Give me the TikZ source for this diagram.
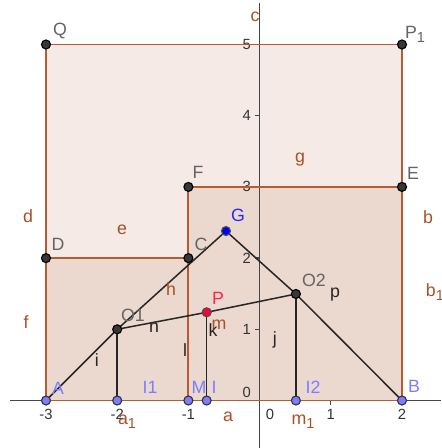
\documentclass[tikz,border=0pt]{standalone}
\usepackage{fontspec}
\setmainfont{Liberation Sans}
\usepackage{tikz}
\usetikzlibrary{positioning,calc}
\definecolor{ggbBrown}{RGB}{153,51,0}
\definecolor{ggbEdge}{RGB}{182,92,50}
\definecolor{ggbText}{RGB}{170,80,40}
\definecolor{ggbPoint}{RGB}{55,55,55}
\definecolor{ggbGrey}{RGB}{100,100,100}
\definecolor{ggbLilac}{RGB}{125,125,255}
\definecolor{ggbBlue}{RGB}{0,0,255}
\definecolor{ggbRed}{RGB}{255,0,51}
\definecolor{ggbAxis}{RGB}{70,70,70}
\newcommand{\ggbSub}[1]{\raisebox{-0.45ex}{\fontsize{5.8}{6}\selectfont #1}}
\tikzset{
  every node/.style={font=\fontsize{7.1}{8}\selectfont},
  polyFill/.style={fill=ggbBrown,fill opacity=0.1},
  polyEdge/.style={draw=ggbEdge,line width=0.75pt},
  segLine/.style={draw=black!85,line width=0.6pt},
  dotDark/.style={circle,draw=black,fill=ggbPoint,line width=0.45pt,inner sep=0pt,minimum size=3.6pt},
  dotFree/.style={dotDark,fill=ggbLilac,draw=black!80},
  ptName/.style={text=ggbGrey,inner sep=0pt},
  polyName/.style={text=ggbText,inner sep=0pt},
  segName/.style={text=black!85,inner sep=0pt},
  tickName/.style={text=black!80,inner sep=0pt,font=\fontsize{5.9}{7}\selectfont}
}
\begin{document}
\begin{tikzpicture}
  \useasboundingbox (-3.646,-0.667) rectangle (2.548,5.625);
  % points
  \coordinate (A) at (-3,0);   \coordinate (B) at (2,0);
  \coordinate (P1) at (2,5);   \coordinate (Q) at (-3,5);
  \coordinate (E) at (2,3);    \coordinate (F) at (-1,3);
  \coordinate (D) at (-3,2);   \coordinate (C) at (-1,2);
  \coordinate (M) at (-1,0);   \coordinate (I1) at (-2,0);
  \coordinate (O1) at (-2,1);  \coordinate (G) at (-0.472,2.38);
  \coordinate (P) at (-0.743,1.239); \coordinate (I) at (-0.743,0);
  \coordinate (O2) at (0.51,1.496);  \coordinate (I2) at (0.51,0);
  \coordinate (xLeft) at (-3.506,0); \coordinate (xRight) at (2.548,0);
  \coordinate (yTop) at (0,5.583);   \coordinate (yBottom) at (0,-0.667);

  % polygons
  \fill[polyFill] (A) -- (B) -- (P1) -- (Q) -- cycle;
  \fill[polyFill] (A) -- (M) -- (C) -- (D) -- cycle;
  \fill[polyFill] (M) -- (B) -- (E) -- (F) -- cycle;

  % axes
  \draw[ggbAxis,line width=0.55pt] (xLeft) -- (xRight);
  \draw[ggbAxis,line width=0.55pt] (yBottom) -- (yTop);
  \foreach \x in {-3,-2,-1,1,2}
    \draw[ggbAxis,line width=0.5pt] (\x,0) -- (\x,-0.06);
  \foreach \y in {1,...,5}
    \draw[ggbAxis,line width=0.5pt] (0,\y) -- (-0.06,\y);
  \foreach \x [count=\i] in {-3,-2,-1,1,2}
    \node[tickName] (xTick\i) at (\x,-0.2) {\x};
  \foreach \y in {1,...,5}
    \node[tickName] (yTick\y) at (-0.18,\y) {\y};
  \node[tickName] (xTickZero) at (0.146,-0.2) {0};
  \node[tickName] (yTickZero) at (-0.18,0.12) {0};

  \draw[polyEdge] (A) -- (B) -- (P1) -- (Q) -- cycle;
  \draw[polyEdge] (A) -- (M) -- (C) -- (D) -- cycle;
  \draw[polyEdge] (M) -- (B) -- (E) -- (F) -- cycle;

  % segments
  \draw[segLine] (A) -- (O1) -- (G) -- (O2) -- (B);
  \draw[segLine] (O1) -- (P) -- (O2);
  \draw[segLine] (O1) -- (I1);
  \draw[segLine] (P) -- (I);
  \draw[segLine] (O2) -- (I2);

  % dots
  \foreach \p in {Q,P1,F,E,D,C,O1,O2}
    \node[dotDark] (dot\p) at (\p) {};
  \foreach \p in {A,B,I1,M,I,I2}
    \node[dotFree] (dot\p) at (\p) {};
  \node[dotDark,fill=ggbBlue,draw=black!70] (dotG) at (G) {};
  \node[dotDark,fill=ggbRed,draw=black!70] (dotP) at (P) {};

  % point names
  \node[ptName] (nameQ) at (-2.803,5.190) {Q};
  \node[ptName] (nameP1) at (2.183,5.140) {P\ggbSub{1}};
  \node[ptName] (nameF) at (-0.865,3.209) {F};
  \node[ptName] (nameE) at (2.154,3.195) {E};
  \node[ptName] (nameD) at (-2.831,2.198) {D};
  \node[ptName] (nameC) at (-0.823,2.198) {C};
  \node[ptName] (nameO1) at (-1.778,1.201) {O1};
  \node[ptName] (nameO2) at (0.764,1.692) {O2};
  \node[ptName,text=ggbBlue!85] (nameG) at (-0.303,2.598) {G};
  \node[ptName,text=ggbRed!85] (nameP) at (-0.584,1.440) {P};
  \node[ptName,text=ggbLilac] (nameA) at (-2.831,0.176) {A};
  \node[ptName,text=ggbLilac] (nameI1) at (-1.539,0.190) {I1};
  \node[ptName,text=ggbLilac] (nameM) at (-0.851,0.190) {M};
  \node[ptName,text=ggbLilac] (nameI) at (-0.640,0.190) {I};
  \node[ptName,text=ggbLilac] (nameI2) at (0.750,0.190) {I2};
  \node[ptName,text=ggbLilac] (nameB) at (2.169,0.204) {B};

  % polygon side names
  \node[polyName] (sideC) at (-0.065,5.386) {c};
  \node[polyName] (sideD) at (-3.253,2.584) {d};
  \node[polyName] (sideE) at (-1.933,2.395) {e};
  \node[polyName] (sideG) at (0.567,3.381) {g};
  \node[polyName] (sideB) at (2.365,2.577) {b};
  \node[polyName] (sideBone) at (2.463,1.528) {b\ggbSub{1}};
  \node[polyName] (sideF) at (-3.281,1.103) {f};
  \node[polyName] (sideH) at (-1.244,1.566) {h};
  \node[polyName] (sideM) at (-0.570,1.060) {m};
  \node[polyName] (sideA) at (-0.444,-0.232) {a};
  \node[polyName] (sideAone) at (-1.862,-0.298) {a\ggbSub{1}};
  \node[polyName] (sideMone) at (0.610,-0.298) {m\ggbSub{1}};

  % segment names
  \node[segName] (segN) at (-1.483,1.018) {n};
  \node[segName] (segK) at (-0.654,0.990) {k};
  \node[segName] (segL) at (-1.048,0.709) {l};
  \node[segName] (segI) at (-2.284,0.569) {i};
  \node[segName] (segJ) at (0.216,0.850) {j};
  \node[segName] (segP) at (1.059,1.482) {p};
\end{tikzpicture}
\end{document}
